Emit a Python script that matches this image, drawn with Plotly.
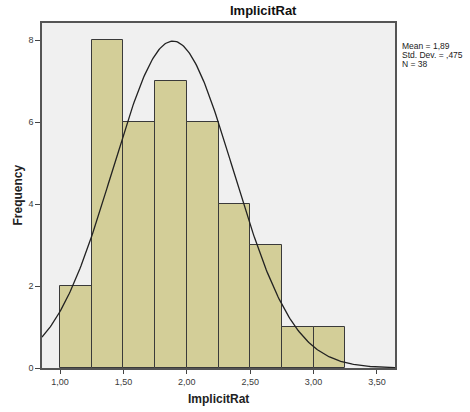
import numpy as np
import plotly.graph_objects as go

# Data
bin_left = [1.00, 1.25, 1.50, 1.75, 2.00, 2.25, 2.50, 2.75, 3.00]
counts = [2, 8, 6, 7, 6, 4, 3, 1, 1]
bin_width = 0.25
mean_val = 1.89
sd_val = 0.475
n_val = 38
x_tickvals = [1.0, 1.5, 2.0, 2.5, 3.0, 3.5]
x_ticktext = ["1,00", "1,50", "2,00", "2,50", "3,00", "3,50"]
y_tickvals = [0, 2, 4, 6, 8]

x_range = [0.858, 3.642]
y_range = [0, 8.42]

centers = [b + bin_width / 2 for b in bin_left]

# Fitted normal curve from the stated mean / sd / N
xc = np.linspace(x_range[0], x_range[1], 300)
yc = n_val * bin_width / (sd_val * np.sqrt(2 * np.pi)) * np.exp(-0.5 * ((xc - mean_val) / sd_val) ** 2)

font_family = "Liberation Sans, Arial, sans-serif"

L, R, T, B = 42, 75, 23, 44
PW = 470 - L - R
PH = 412 - T - B

fig = go.Figure()
fig.add_trace(go.Bar(
    x=centers, y=counts, width=bin_width,
    marker=dict(color="#d3ce98", line=dict(color="#3a3a3a", width=1)),
    hoverinfo="skip",
))
fig.add_trace(go.Scatter(
    x=xc, y=yc, mode="lines",
    line=dict(color="#222222", width=1.3),
    hoverinfo="skip",
))

fig.update_layout(
    width=470, height=412,
    margin=dict(l=L, r=R, t=T, b=B, autoexpand=False),
    paper_bgcolor="white",
    plot_bgcolor="#f0f0f0",
    showlegend=False,
    bargap=0,
    font=dict(family=font_family, size=9, color="#333333"),
    xaxis=dict(
        range=x_range, tickvals=x_tickvals, ticktext=x_ticktext,
        ticks="outside", ticklen=4, tickcolor="#444444", tickwidth=1,
        showgrid=False, zeroline=False, automargin=False,
        showline=True, linecolor="#555555", linewidth=1.5, mirror=True,
        tickfont=dict(size=9, color="#3a3a3a"),
    ),
    yaxis=dict(
        range=y_range, tickvals=y_tickvals,
        ticks="outside", ticklen=5, tickcolor="#444444", tickwidth=1,
        showgrid=False, zeroline=False, automargin=False,
        showline=True, linecolor="#555555", linewidth=1.5, mirror=True,
        tickfont=dict(size=9, color="#3a3a3a"),
    ),
)

# Title
fig.add_annotation(
    text="<b>ImplicitRat</b>", xref="paper", yref="paper",
    x=(263 - L) / PW, y=1, yshift=3, xanchor="center", yanchor="bottom",
    showarrow=False, font=dict(size=13, color="#111111"),
)
# X axis title
fig.add_annotation(
    text="<b>ImplicitRat</b>", xref="paper", yref="paper",
    x=0.5, y=0, yshift=-(399 - (412 - B)), xanchor="center", yanchor="middle",
    showarrow=False, font=dict(size=12, color="#222222"),
)
# Y axis title
fig.add_annotation(
    text="<b>Frequency</b>", xref="paper", yref="paper",
    x=0, xshift=-(L - 17), y=0.5, xanchor="center", yanchor="middle",
    textangle=-90, showarrow=False, font=dict(size=12, color="#222222"),
)

stats = [f"Mean = {mean_val:.2f}".replace(".", ","),
         "Std. Dev. = ,475",
         f"N = {n_val}"]
for i, s in enumerate(stats):
    fig.add_annotation(
        text=s, xref="paper", yref="paper",
        x=1, xshift=5, xanchor="left",
        y=1, yshift=-(23 + i * 9), yanchor="middle",
        showarrow=False, font=dict(size=8.5, color="#222222"),
    )

fig.write_html("out.html")
